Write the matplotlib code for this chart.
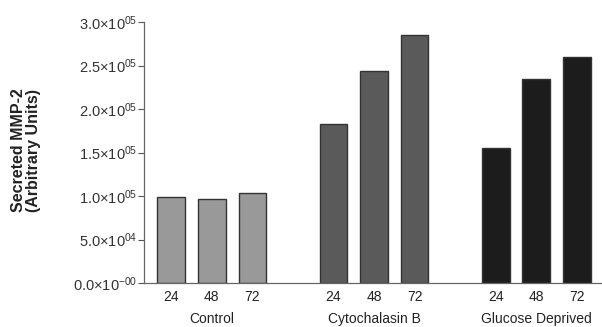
import matplotlib
matplotlib.use("Agg")
import matplotlib.pyplot as plt
import numpy as np

plt.rcParams['font.family'] = ['Liberation Sans', 'DejaVu Sans']
plt.rcParams['mathtext.fontset'] = 'custom'
plt.rcParams['mathtext.rm'] = 'Liberation Sans'
plt.rcParams['mathtext.it'] = 'Liberation Sans'
plt.rcParams['mathtext.bf'] = 'Liberation Sans:bold'

groups = ["Control", "Cytochalasin B", "Glucose Deprived"]
times = ["24", "48", "72"]
control = [0.99e5, 0.96e5, 1.03e5]
cytochalasin = [1.83e5, 2.44e5, 2.85e5]
glucose = [1.55e5, 2.34e5, 2.60e5]
group_colors = ["#999999", "#5a5a5a", "#1c1c1c"]
yticks = [0, 0.5e5, 1.0e5, 1.5e5, 2.0e5, 2.5e5, 3.0e5]
ytick_labels = ["0.0×10$^{-00}$", "5.0×10$^{04}$", "1.0×10$^{05}$", "1.5×10$^{05}$",
                "2.0×10$^{05}$", "2.5×10$^{05}$", "3.0×10$^{05}$"]

fig = plt.figure(figsize=(6.02, 3.27), dpi=100)
ax = fig.add_axes([144/602, 44/327, 458/602, 261/327])

series = [control, cytochalasin, glucose]
xpos = []
xlabels = []
for gi, vals in enumerate(series):
    pos = np.arange(len(vals)) + gi * 4
    ax.bar(pos, vals, width=0.68, color=group_colors[gi], edgecolor="#333333", linewidth=1.0)
    xpos.extend(pos)
    xlabels.extend(times)
    ax.text(gi * 4 + 1, -0.11, groups[gi], transform=ax.get_xaxis_transform(),
            ha='center', va='top', fontsize=10, color='#222222')

ax.set_xlim(-0.67, 10.62)
ax.set_ylim(0, 3.0e5)
ax.set_xticks(xpos)
ax.set_xticklabels(xlabels, fontsize=10, color='#222222')
ax.tick_params(axis='x', length=0, pad=5)
ax.set_yticks(yticks)
ax.set_yticklabels(ytick_labels, fontsize=10.5, color='#333333')
ax.tick_params(axis='y', length=4, width=0.8, color='#555555', pad=1)

for s in ['top', 'right']:
    ax.spines[s].set_visible(False)
for s in ['left', 'bottom']:
    ax.spines[s].set_color('#666666')
    ax.spines[s].set_linewidth(0.9)

fig.text(26/602, (327 - 150)/327, "Secreted MMP-2\n(Arbitrary Units)", rotation=90,
         ha='center', va='center', fontsize=11.5, fontweight='bold',
         color='#222222', linespacing=0.95, multialignment='center')

fig.savefig("out.png", dpi=100)
